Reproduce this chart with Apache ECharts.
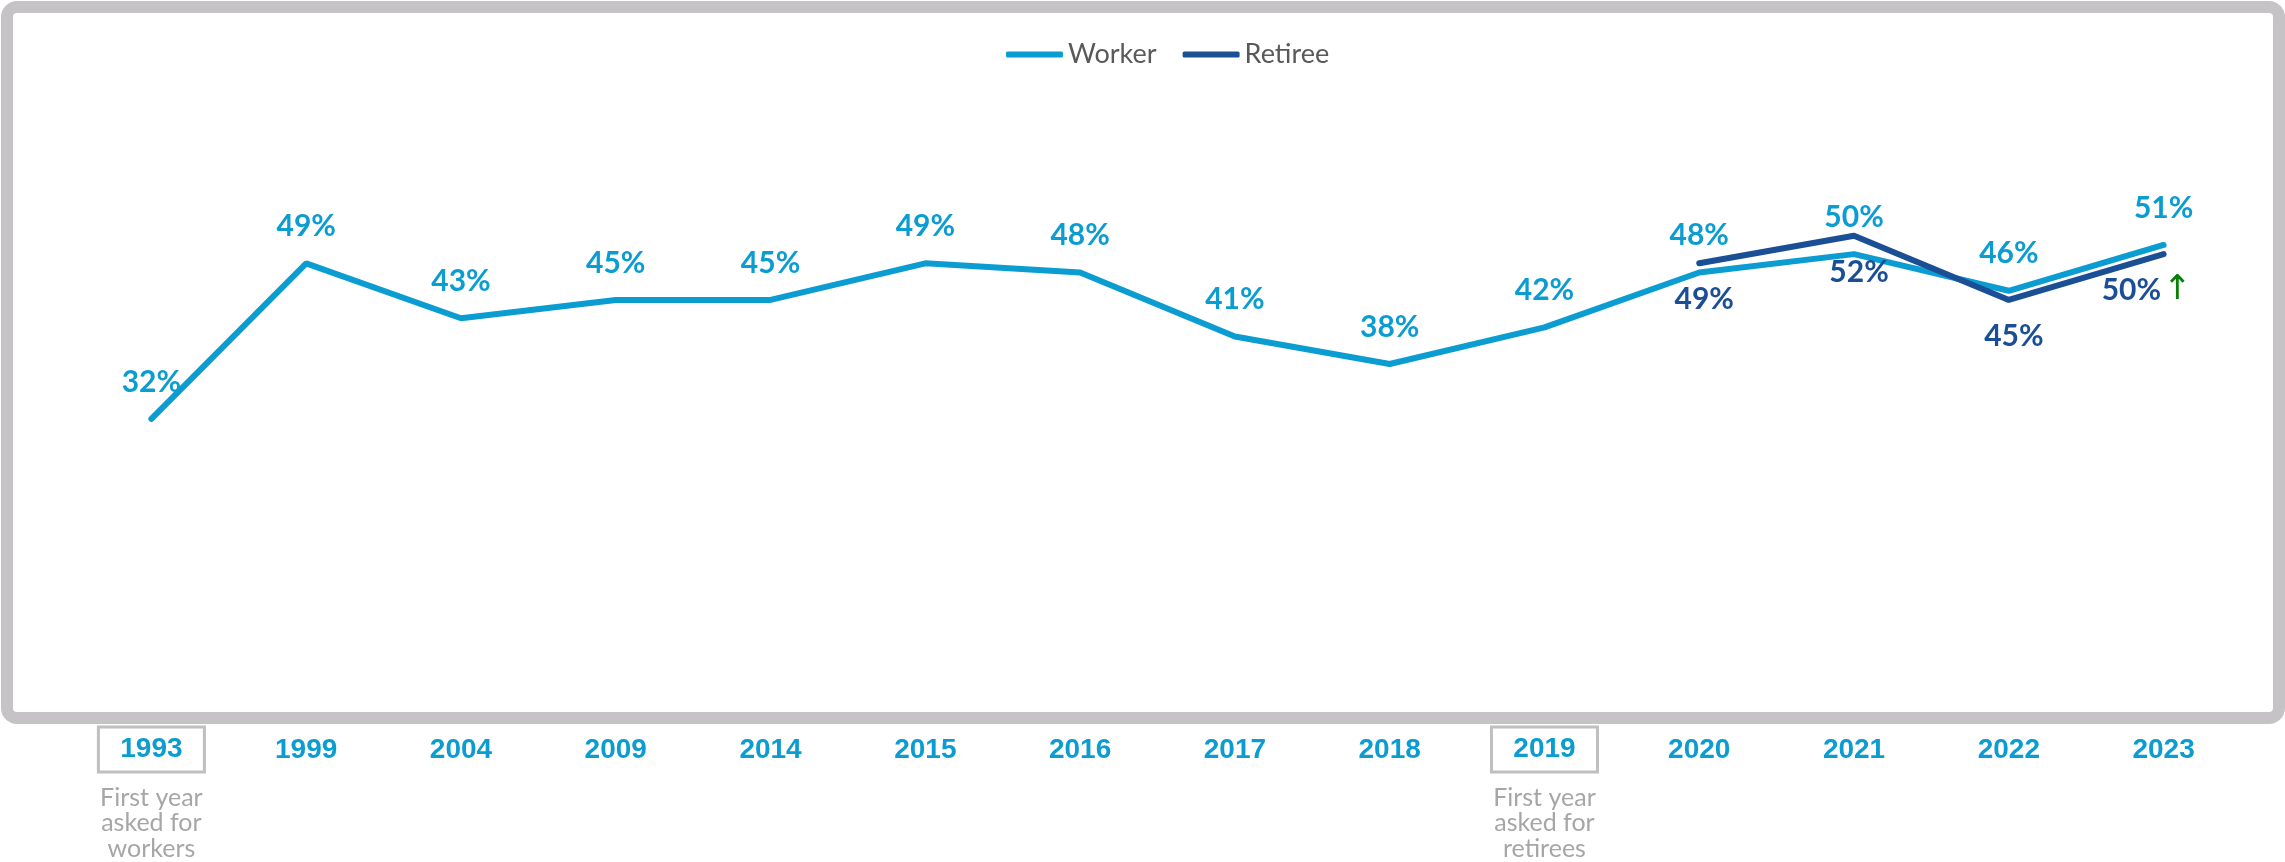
<!DOCTYPE html>
<html>
<head>
<meta charset="utf-8">
<script src="https://cdn.jsdelivr.net/npm/echarts@6/dist/echarts.min.js"></script>
<style>
html,body{margin:0;padding:0;background:#fff;}
#chart{width:2285px;height:862px;}
</style>
</head>
<body>
<div id="chart"></div>
<script>
const categories = ['1993','1999','2004','2009','2014','2015','2016','2017','2018','2019','2020','2021','2022','2023'];
const workerValues = [32,49,43,45,45,49,48,41,38,42,48,50,46,51];
const retireeValues = [null,null,null,null,null,null,null,null,null,null,49,52,45,50];
const seriesNames = ['Worker','Retiree'];
const firstYearNotes = {
  '1993': ['First year','asked for','workers'],
  '2019': ['First year','asked for','retirees']
};
const increasedMarker = { '2023': '↑' };

const workerColor = '#0B9CD2';
const retireeColor = '#1B4F95';

const chart = echarts.init(document.getElementById('chart'), null, {renderer:'canvas'});

const retireeData = retireeValues.map((v, i) => {
  if (v == null) return null;
  const cat = categories[i];
  if (increasedMarker[cat]) {
    return { value: v, label: { offset: [-17, 0] } };
  }
  return { value: v, label: { offset: [5, 0] } };
});

chart.setOption({
  backgroundColor: '#ffffff',
  animation: false,
  graphic: [{
    type: 'rect',
    shape: { x: 7, y: 7, width: 2272, height: 711, r: 10 },
    style: { fill: 'none', stroke: '#c5c3c6', lineWidth: 12 },
    z: -10
  }],
  legend: {
    top: 36,
    left: 1001,
    icon: 'roundRect',
    itemWidth: 57,
    itemHeight: 6,
    itemGap: 26,
    textStyle: { fontFamily: 'Lato', fontSize: 27, color: '#595959' },
    data: seriesNames
  },
  grid: { left: 74, width: 2167, top: 71, height: 641, containLabel: false },
  xAxis: {
    type: 'category',
    data: categories,
    boundaryGap: true,
    axisLine: { show: false },
    axisTick: { show: false },
    splitLine: { show: false },
    axisLabel: {
      interval: 0,
      margin: 15,
      formatter: function (val) {
        const notes = firstYearNotes[val];
        if (notes) {
          return '{yb|' + val + '}\n{gap| }\n' + notes.map(n => '{n|' + n + '}').join('\n');
        }
        return '{y|' + val + '}';
      },
      rich: {
        y: { fontFamily: 'Liberation Sans', fontWeight: 'bold', fontSize: 28, color: workerColor, width: 108, height: 47, align: 'center', verticalAlign: 'middle' },
        yb: { fontFamily: 'Liberation Sans', fontWeight: 'bold', fontSize: 28, color: workerColor, width: 106, height: 45, align: 'center', verticalAlign: 'middle', borderColor: '#bfbfbf', borderWidth: 3 },
        gap: { fontSize: 4, lineHeight: 13, height: 13 },
        n: { fontFamily: 'Lato', fontSize: 25, color: '#a6a6a6', lineHeight: 25.5, align: 'center' }
      }
    }
  },
  yAxis: {
    type: 'value',
    min: 0,
    max: 70,
    show: false,
    splitLine: { show: false }
  },
  series: [
    {
      name: seriesNames[0],
      type: 'line',
      data: workerValues,
      symbol: 'circle',
      symbolSize: 0.1,
      showSymbol: true,
      color: workerColor,
      lineStyle: { width: 6, color: workerColor, cap: 'round' },
      label: {
        show: true,
        position: 'top',
        distance: 22,
        formatter: p => p.value + '%',
        fontFamily: 'Lato',
        fontWeight: 'bold',
        fontSize: 30,
        lineHeight: 30,
        color: workerColor
      },
      z: 2
    },
    {
      name: seriesNames[1],
      type: 'line',
      data: retireeData,
      connectNulls: false,
      symbol: 'circle',
      symbolSize: 0.1,
      showSymbol: true,
      color: retireeColor,
      lineStyle: { width: 6, color: retireeColor, cap: 'round' },
      label: {
        show: true,
        position: 'bottom',
        distance: 21,
        formatter: p => {
          const m = increasedMarker[categories[p.dataIndex]];
          return '{v|' + p.value + '%}' + (m ? '{up|' + m + '}' : '');
        },
        rich: {
          v: { fontFamily: 'Lato', fontWeight: 'bold', fontSize: 30, lineHeight: 30, color: retireeColor },
          up: { fontFamily: 'DejaVu Sans', fontSize: 34, lineHeight: 30, color: '#078007', padding: [0, 0, 0, 2] }
        }
      },
      z: 3
    }
  ]
});
</script>
</body>
</html>
